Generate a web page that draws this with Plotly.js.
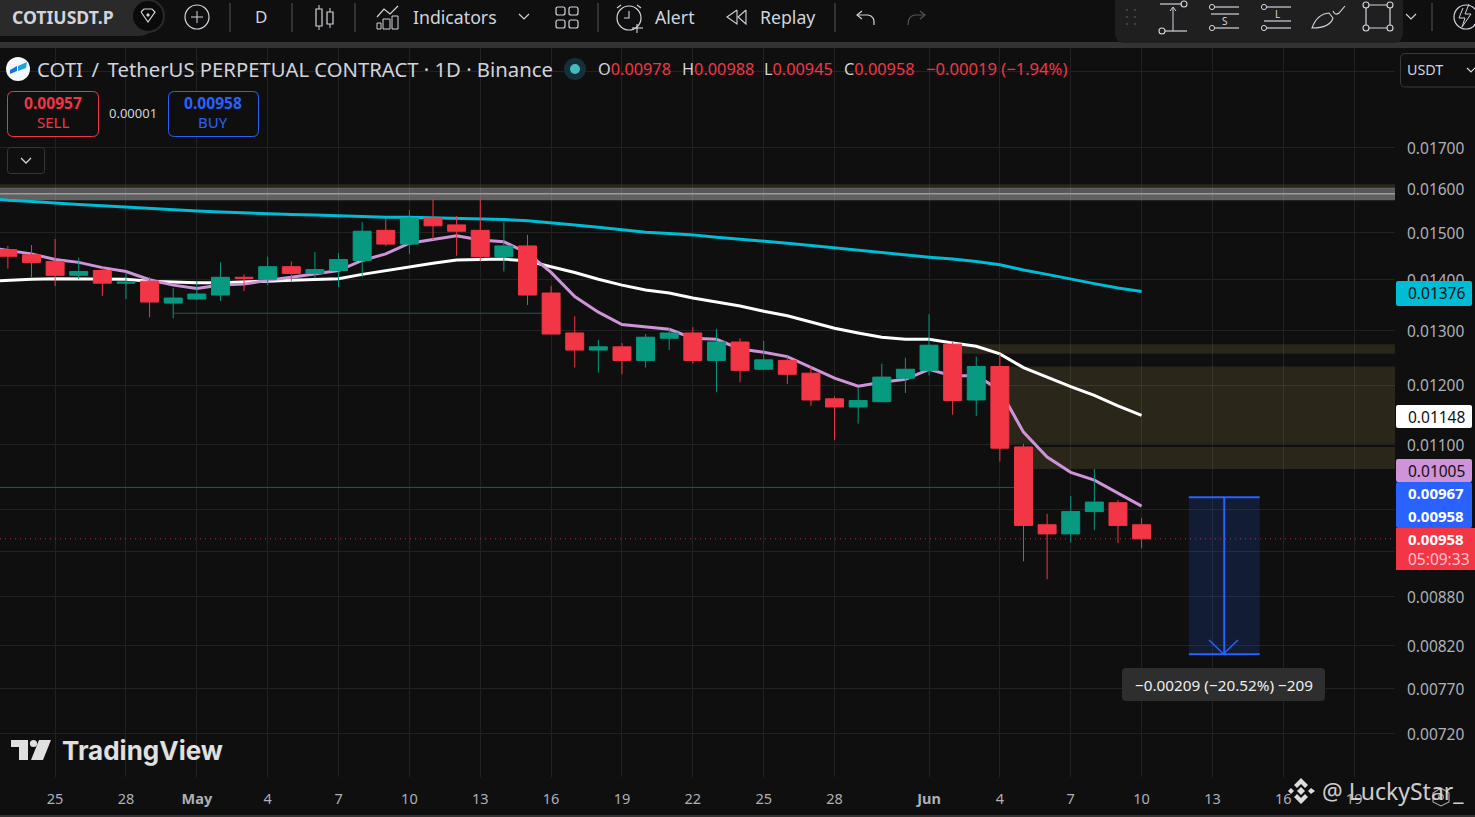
<!DOCTYPE html>
<html><head><meta charset="utf-8">
<script src="https://cdn.plot.ly/plotly-3.0.1.min.js"></script>
<style>html,body{margin:0;padding:0;background:#0f0f0f;overflow:hidden}#chart{width:1475px;height:817px}</style>
</head><body><div id="chart"></div>
<script>
const dates=['2025-04-23','2025-04-24','2025-04-25','2025-04-26','2025-04-27','2025-04-28','2025-04-29','2025-04-30','2025-05-01','2025-05-02','2025-05-03','2025-05-04','2025-05-05','2025-05-06','2025-05-07','2025-05-08','2025-05-09','2025-05-10','2025-05-11','2025-05-12','2025-05-13','2025-05-14','2025-05-15','2025-05-16','2025-05-17','2025-05-18','2025-05-19','2025-05-20','2025-05-21','2025-05-22','2025-05-23','2025-05-24','2025-05-25','2025-05-26','2025-05-27','2025-05-28','2025-05-29','2025-05-30','2025-05-31','2025-06-01','2025-06-02','2025-06-03','2025-06-04','2025-06-05','2025-06-06','2025-06-07','2025-06-08','2025-06-09','2025-06-10'];
const opens=[.01463,.01452,.01438,.01409,.01419,.01393,.01397,.01353,.01361,.01369,.01405,.01401,.01427,.01413,.01419,.0144,.01505,.01475,.01532,.01517,.01505,.01448,.01471,.01373,.01295,.01263,.01269,.01244,.01285,.01295,.01244,.01278,.01228,.01244,.01221,.01176,.01162,.01171,.01212,.01226,.01274,.01174,.01233,.01096,.00978,.00965,.00997,.0101,.00978];
const highs=[.01471,.01473,.01486,.01446,.01425,.01415,.01405,.01383,.01397,.01436,.01411,.01448,.01438,.01458,.01456,.01523,.0153,.0155,.01576,.01537,.01576,.01523,.01495,.01387,.01327,.01282,.01276,.01293,.01304,.01306,.01303,.01285,.0128,.01251,.01233,.0118,.01195,.01238,.01249,.01331,.01278,.01251,.01256,.01101,.00994,.0102,.01061,.01014,.00988];
const lows=[.01423,.01405,.01387,.01401,.01367,.01361,.01325,.01323,.01359,.01357,.01377,.01389,.01397,.01403,.01385,.01405,.01471,.01454,.01484,.0145,.01438,.01417,.01349,.01293,.01231,.01222,.01219,.01231,.01263,.01238,.01188,.01205,.01228,.01202,.01164,.01107,.01134,.01171,.01186,.01217,.01149,.01147,.01073,.00927,.00903,.00953,.0097,.00952,.00945];
const closes=[.01449,.01436,.01409,.01417,.01393,.01395,.01355,.01363,.01371,.01405,.01403,.01427,.01413,.01421,.01442,.01503,.01475,.01532,.01515,.01503,.01448,.01471,.01369,.01293,.01263,.01269,.01244,.01287,.01295,.01244,.01278,.01226,.01245,.01219,.01174,.01162,.01173,.01214,.01228,.01272,.01173,.01233,.01094,.00977,.00965,.00997,.01011,.00977,.00958];
const lineDates=['2025-04-22'].concat(dates);
const maCyan=[.01578,.01573,.0157,.01566,.01563,.0156,.01557,.01554,.0155,.01548,.01546,.01544,.01541,.0154,.01539,.01537,.01535,.01534,.01534,.01533,.01531,.0153,.01529,.01526,.01522,.01517,.01512,.01506,.01501,.01498,.01495,.0149,.01486,.01482,.01477,.01472,.01467,.01461,.01456,.01451,.01447,.01443,.01438,.01431,.0142,.01411,.01401,.01392,.01383,.01376];
const maWhite=[.01396,.01399,.01401,.01402,.01402,.01402,.01401,.01397,.01395,.01394,.01394,.01395,.01397,.01399,.014,.01402,.01411,.01419,.01426,.01434,.01441,.01442,.01443,.01439,.01427,.01415,.01401,.01389,.01379,.01373,.01363,.01355,.01347,.01337,.01328,.01316,.01304,.01295,.01287,.01283,.01283,.01276,.0127,.01256,.01231,.01214,.01197,.01182,.01164,.01148];
const maPurple=[.01469,.01461,.01454,.01442,.01436,.01425,.01417,.014,.01389,.01382,.01389,.01391,.01399,.01405,.01412,.01419,.0144,.01454,.01477,.01485,.01493,.01484,.0148,.01456,.01415,.01366,.01335,.01311,.01306,.01302,.01285,.01283,.01265,.01259,.01251,.01231,.01212,.01198,.01205,.0121,.01228,.01216,.01217,.01191,.0112,.0108,.01056,.01044,.01024,.01005];
const yTicks=[.019,.017,.016,.015,.014,.013,.012,.011,.01,.0094,.0088,.0082,.0077,.0072];
const yLabels=['','0.01700','0.01600','0.01500','0.01400','0.01300','0.01200','0.01100','','','0.00880','0.00820','0.00770','0.00720'];
const xTicks=['2025-04-25','2025-04-28','2025-05-01','2025-05-04','2025-05-07','2025-05-10','2025-05-13','2025-05-16','2025-05-19','2025-05-22','2025-05-25','2025-05-28','2025-06-01','2025-06-04','2025-06-07','2025-06-10','2025-06-13','2025-06-16','2025-06-19'];
const xLabels=['25','28','<b>May</b>','4','7','10','13','16','19','22','25','28','<b>Jun</b>','4','7','10','13','16','19'];
const lastClose=.00958;

const W=1395,H=733,T=44;
const FONT='"Noto Sans",sans-serif';
const px=x=>x/W, py=y=>1-(y-T)/H;
const RED='#f23645',GREEN='#089981',BLUE='#2962ff',TXT='#d1d4dc',BG='#0f0f0f',OLIVE='rgba(240,207,98,.12)';
const xRange=['2025-04-22 16:00','2025-06-20 17:30'];
const yRange=[Math.log10(.00676),Math.log10(.01977)];
const shapes=[],anns=[];
function path(d,stroke,width,fill){
  const s=d.map(c=>c[0]+' '+c.slice(1).map((v,i)=>i%2==0?px(v):py(v)).join(' ')).join(' ');
  shapes.push({type:'path',xref:'paper',yref:'paper',path:s,layer:'above',line:{color:stroke||'rgba(0,0,0,0)',width:stroke?(width||1.2):0},fillcolor:fill||'rgba(0,0,0,0)'});
}
function poly(pts,stroke,width){path(pts.map((p,i)=>[i?'L':'M',p[0],p[1]]),stroke,width)}
function rrect(x0,y0,x1,y1,r,fill,stroke,width){
  path([['M',x0+r,y0],['L',x1-r,y0],['Q',x1,y0,x1,y0+r],['L',x1,y1-r],['Q',x1,y1,x1-r,y1],['L',x0+r,y1],['Q',x0,y1,x0,y1-r],['L',x0,y0+r],['Q',x0,y0,x0+r,y0],['Z']],stroke,width,fill);
}
function circ(cx,cy,r,fill,stroke,width){
  shapes.push({type:'circle',xref:'paper',yref:'paper',x0:px(cx-r),x1:px(cx+r),y0:py(cy+r),y1:py(cy-r),layer:'above',fillcolor:fill||'rgba(0,0,0,0)',line:{color:stroke||'rgba(0,0,0,0)',width:stroke?(width||1.2):0}});
}
function txt(x,y,t,size,color,anchor,font,extra){
  anns.push(Object.assign({xref:'paper',yref:'paper',x:px(x),y:py(y),text:t,showarrow:false,xanchor:anchor||'left',yanchor:'middle',borderpad:0,font:{size:size,color:color||TXT,family:font||FONT}},extra||{}));
}
function zone(x0,x1,y0,y1,color){shapes.push({type:'rect',xref:'x',yref:'y',x0:x0,x1:x1,y0:y0,y1:y1,layer:'between',fillcolor:color,line:{width:0}})}
function hline(x0,x1,y,color,width,dash){shapes.push({type:'line',xref:'x',yref:'y',x0:x0,x1:x1,y0:y,y1:y,layer:'between',line:{color:color,width:width,dash:dash||'solid'}})}

const R0=xRange[0],R1=xRange[1];
zone(R0,R1,.01610,.01602,OLIVE);
zone(R0,R1,.01602,.01588,'rgba(255,255,255,.30)');
zone(R0,R1,.01588,.01573,'rgba(255,255,255,.34)');
hline(R0,R1,.01588,'#9a9a9a',1.5);
zone('2025-06-02',R1,.01274,.01256,OLIVE);
zone('2025-06-04',R1,.01233,.01101,OLIVE);
zone('2025-06-05',R1,.01096,.01061,OLIVE);
hline('2025-04-30','2025-05-16',.01333,'#0d625e',1);
hline(R0,'2025-06-05',.01033,'#0d625e',1);
hline(R0,R1,lastClose,'rgba(242,54,69,.8)',1,'1px,4px');
const mTop=.01018,mBot=.00809,mL='2025-06-12',mR='2025-06-15',mC='2025-06-13 12:00';
zone(mL,mR,mBot,mTop,'rgba(41,98,255,.16)');
hline(mL,mR,mTop,BLUE,2);hline(mL,mR,mBot,BLUE,2);
shapes.push({type:'line',xref:'x',yref:'y',x0:mC,x1:mC,y0:mTop,y1:mBot,layer:'above',line:{color:BLUE,width:2}});
poly([[1209,640],[1223.5,654],[1238,640]],BLUE,1.5);
rrect(1122,668,1325,701,4,'#2e2e2e');
txt(1223.5,685,'−0.00209 (−20.52%) −209',15.3,'#eeeeee','center');

// top toolbar
rrect(-20,-20,1500,42,0,BG);
rrect(0,42,1475,48,0,'#333333');
rrect(-30,-10,155,36,18,'#2a2a2a');
txt(11,17,'<b>COTIUSDT.P</b>',17.6,TXT,'left');
circ(148,16,16,'#0a0a0a','#2a2a2a',2);
poly([[141,12],[144,9],[152,9],[155,12],[148,22],[141,12]],TXT,1.2);
path([['M',148,13],['L',150,15],['L',148,17],['L',146,15],['Z']],null,0,TXT);
circ(197,17,12,null,TXT,1.2);
poly([[191,17],[203,17]],TXT,1);poly([[197,11],[197,23]],TXT,1);
[230,292,355,598,835].forEach(x=>poly([[x,3],[x,32]],'#4a4a4a',1.2));
txt(261,17,'D',17,TXT,'center');
poly([[319,5],[319,30]],TXT,1);rrect(316,9,322,26,0,BG,TXT,1.2);
poly([[330,8],[330,28]],TXT,1);rrect(327,12,333,24,0,BG,TXT,1.2);
poly([[377,17],[384,9],[390,14],[398,6]],TXT,1.2);
rrect(377,23,381,29,0,null,TXT,1);rrect(383,19,390,29,0,null,TXT,1);rrect(392,16,398,29,0,null,TXT,1);
txt(412,17,'Indicators',17.7,TXT,'left');
poly([[519,14],[524,19],[529,14]],TXT,1.2);
[[556,7],[569,7],[556,20],[569,20]].forEach(p=>rrect(p[0],p[1],p[0]+9,p[1]+8,2,null,TXT,1.2));
circ(629,18,12,null,TXT,1.2);
poly([[629,11],[629,18],[624,18]],TXT,1.1);poly([[617,8],[621,5]],TXT,1.1);poly([[637,5],[641,8]],TXT,1.1);
poly([[637,24],[637,33]],TXT,1.1);poly([[632,28],[643,28]],TXT,1.1);
txt(654,17,'Alert',17.7,TXT,'left');
poly([[737,10],[727,17],[737,24],[737,10]],TXT,1.1);poly([[746,10],[738,17],[746,24],[746,10]],TXT,1.1);
txt(759,17,'Replay',17.7,TXT,'left');
poly([[862,11],[857,15],[862,19]],TXT,1.2);path([['M',857,15],['L',868,15],['Q',875,16,874,25]],TXT,1.2);
poly([[920,11],[925,15],[920,19]],'#555',1.2);path([['M',925,15],['L',915,15],['Q',908,16,908,25]],'#555',1.2);
rrect(1115,-12,1403,43,10,'#1f1f1f');
[1127,1135].forEach(x=>[10,17,24].forEach(y=>circ(x,y,1.1,'#4a4a4a')));
poly([[1160,4],[1182,4]],TXT,1.2);circ(1184,4,3,null,TXT,1.1);poly([[1165,31],[1187,31]],TXT,1.2);circ(1162,31,3,null,TXT,1.1);
poly([[1173,31],[1173,8]],TXT,1);poly([[1170,11],[1173,7],[1176,11]],TXT,1);
[[1215,1239,7],[1211,1239,14],[1215,1239,28]].forEach(a=>poly([[a[0],a[2]],[a[1],a[2]]],TXT,1.2));
circ(1212,7,2.6,null,TXT,1);circ(1212,28,2.6,null,TXT,1);txt(1225,21,'S',10,TXT,'center');
[[1267,1291,7],[1264,1291,21],[1267,1291,28]].forEach(a=>poly([[a[0],a[2]],[a[1],a[2]]],TXT,1.2));
circ(1264,7,2.6,null,TXT,1);circ(1264,28,2.6,null,TXT,1);txt(1277,14,'L',10,TXT,'center');
path([['M',1312,28],['Q',1317,14,1329,13],['L',1333,18],['Q',1330,28,1312,28],['Z']],TXT,1.1);
path([['M',1333,11],['Q',1335,16,1339,13],['L',1345,6]],TXT,1.1);
rrect(1366,5,1390,28,0,null,TXT,1.2);
[[1366,5],[1390,5],[1366,28],[1390,28]].forEach(p=>circ(p[0],p[1],3,'#1f1f1f',TXT,1.1));
poly([[1406,14],[1411,19],[1416,14]],TXT,1.2);
poly([[1432,3],[1432,31]],'#4a4a4a',1.2);
circ(1466,17,12,null,TXT,1.2);poly([[1463,8],[1459,18],[1465,18],[1462,27],[1471,14],[1465,14],[1469,4]],TXT,1);
poly([[1474,24],[1478,29]],TXT,1.2);

// legend row
circ(18,69,12,'#f4f7fb');
path([['M',10,70],['L',17,66],['L',17,71],['L',10,74],['Z']],null,0,'#1f6fd6');
path([['M',18,66],['L',27,62],['L',26,68],['L',18,71],['Z']],null,0,'#1aa7d8');
txt(36,68.5,'COTI\u2009 /\u2009 TetherUS PERPETUAL CONTRACT · 1D · Binance',20.3,TXT,'left');
circ(575,69,11,'#16303a');circ(575,69,5,'#45bcbc');
const rs=v=>'<span style="color:'+RED+'">'+v+'</span>';
txt(597,68.5,'O'+rs('0.00978'),16.3,TXT,'left');
txt(681,68.5,'H'+rs('0.00988'),16.3,TXT,'left');
txt(763,68.5,'L'+rs('0.00945'),16.3,TXT,'left');
txt(843,68.5,'C'+rs('0.00958'),16.3,TXT,'left');
txt(925,68.5,'−0.00019 (−1.94%)',16.6,RED,'left');
rrect(7.5,91.5,98.5,136.5,6,BG,RED,1);
txt(53,103.5,'<b>0.00957</b>',15.6,RED,'center');txt(53,122,'SELL',15,RED,'center');
txt(133,113,'0.00001',13,TXT,'center');
rrect(168.5,91.5,258.5,136.5,6,BG,BLUE,1);
txt(213,103.5,'<b>0.00958</b>',15.6,BLUE,'center');txt(213,122,'BUY',15,BLUE,'center');
rrect(7.5,147.5,44.5,173.5,3,BG,'#363636',1);
poly([[21,158],[26,163],[31,158]],TXT,1.3);
rrect(1400.5,53.5,1490,87,5,BG,'#3a3a3a',1);
txt(1406,69.5,'USDT',14.3,TXT,'left');
poly([[1467,68],[1471,72],[1475,68]],TXT,1.2);

// price labels
function plabel(y0,y1,fill,x1){rrect(1396,y0,x1||1472,y1,2,fill)}
plabel(281,306,'#00bcd4');txt(1407,293.5,'0.01376',15.5,'#111','left');
plabel(405,428,'#ffffff');txt(1407,416.8,'0.01148',15.5,'#111','left');
plabel(459,482,'#ce93d8');txt(1407,470.8,'0.01005',15.5,'#111','left');
plabel(482,528,BLUE);txt(1407,493,'<b>0.00967</b>',15,'#fff','left');txt(1407,516,'<b>0.00958</b>',15,'#fff','left');
rrect(1396,528,1480,570,0,RED);txt(1407,539,'<b>0.00958</b>',15,'#fff','left');txt(1407,559,'05:09:33',15.5,'#fcc5ca','left');

// watermarks
path([['M',11,740],['L',28,740],['L',28,760],['L',19,760],['L',19,747],['L',11,747],['Z']],null,0,'#e0e0e0');
circ(33.5,743.5,3.6,'#e0e0e0');
path([['M',39,740],['L',51,740],['L',43,760],['L',31,760],['Z']],null,0,'#e0e0e0');
txt(61,750,'<b>TradingView</b>',26,'#e0e0e0','left','Inter,sans-serif');
const WM='#dddddd';
path([['M',1294,785],['L',1301,778],['L',1308,785],['L',1305,788],['L',1301,784],['L',1297,788],['Z']],null,0,WM);
path([['M',1294,797],['L',1301,804],['L',1308,797],['L',1305,794],['L',1301,798],['L',1297,794],['Z']],null,0,WM);
path([['M',1301,787],['L',1305,791],['L',1301,795],['L',1297,791],['Z']],null,0,WM);
path([['M',1288,791],['L',1291,788],['L',1294,791],['L',1291,794],['Z']],null,0,WM);
path([['M',1308,791],['L',1311,788],['L',1315,791],['L',1311,794],['Z']],null,0,WM);
txt(1321,791,'@ LuckyStar_',23,'rgba(225,225,225,.92)','left');
path([['M',1441,788],['L',1449,793],['L',1449,802],['L',1441,806],['L',1433,802],['L',1433,793],['Z']],'#aaaaaa',1.1);
circ(1441,797,2.4,null,'#aaaaaa',1.1);
rrect(0,815,1475,818,0,'#333333');

const traces=[
 {type:'scatter',mode:'lines',x:lineDates,y:maCyan,line:{color:'#00bcd4',width:3},hoverinfo:'skip'},
 {type:'scatter',mode:'lines',x:lineDates,y:maWhite,line:{color:'#ffffff',width:3},hoverinfo:'skip'},
 {type:'scatter',mode:'lines',x:lineDates,y:maPurple,line:{color:'#ce93d8',width:3},hoverinfo:'skip'},
 {type:'candlestick',x:dates,open:opens,high:highs,low:lows,close:closes,xaxis:'x2',yaxis:'y2',whiskerwidth:0,
  increasing:{line:{color:GREEN,width:1},fillcolor:GREEN},decreasing:{line:{color:RED,width:1},fillcolor:RED},hoverinfo:'skip'}
];
const layout={width:1475,height:817,paper_bgcolor:BG,plot_bgcolor:BG,showlegend:false,boxgap:0.24,boxgroupgap:0,
 margin:{l:0,r:80,t:44,b:40,pad:0},font:{family:FONT,color:'#b2b5be',size:14},
 xaxis:{type:'date',range:xRange,tickmode:'array',tickvals:xTicks,ticktext:xLabels,showgrid:true,gridcolor:'#222222',gridwidth:1,ticks:'',zeroline:false,showline:false,tickfont:{size:14.5,color:'#adb0b8'},ticklabelstandoff:11,fixedrange:true},
 yaxis:{type:'log',side:'right',range:yRange,tickmode:'array',tickvals:yTicks,ticktext:yLabels,showgrid:true,gridcolor:'#222222',gridwidth:1,ticks:'',zeroline:false,showline:false,tickfont:{size:15.5,color:'#adb0b8'},ticklabelstandoff:11,ticklabelshift:1,fixedrange:true},
 xaxis2:{type:'date',overlaying:'x',range:xRange,visible:false,rangeslider:{visible:false},fixedrange:true},
 yaxis2:{type:'log',overlaying:'y',side:'right',range:yRange,visible:false,fixedrange:true},
 shapes:shapes,annotations:anns};
Plotly.newPlot('chart',traces,layout,{displayModeBar:false,staticPlot:true});
</script></body></html>
